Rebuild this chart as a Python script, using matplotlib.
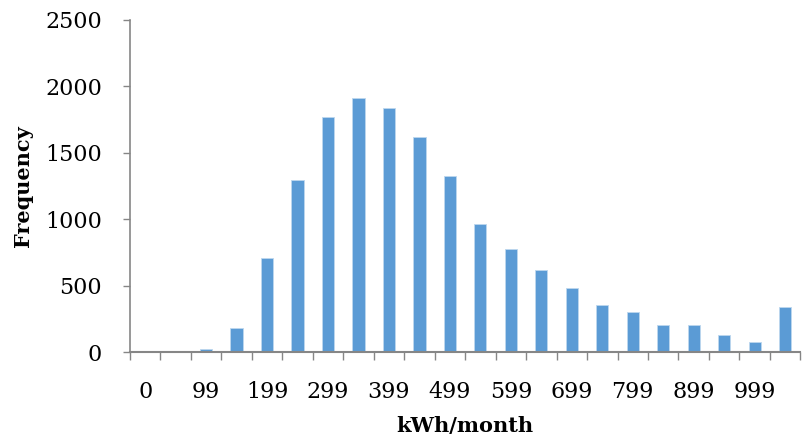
import numpy as np
import matplotlib
matplotlib.use("Agg")
import matplotlib.pyplot as plt

# histogram bins (upper bound of each bin), last bin is the overflow
bins = ['0', '49', '99', '149', '199', '249', '299', '349', '399', '449', '499',
        '549', '599', '649', '699', '749', '799', '849', '899', '949', '999', 'More']
freq = [0, 4, 27, 185, 708, 1297, 1767, 1915, 1835, 1617, 1325,
        967, 773, 615, 483, 352, 304, 206, 202, 131, 79, 338]

blue = '#5B9BD5'
axis_grey = '#868686'

plt.rcParams['font.family'] = 'DejaVu Serif'

fig = plt.figure(figsize=(8.02, 4.44), dpi=100)
ax = fig.add_axes([0.162, 0.207, 0.836, 0.748])

x = np.arange(len(bins))
ax.bar(x, freq, width=0.4, color=blue, edgecolor='#BDD7EE', linewidth=0.6)

ax.set_xlim(-0.5, len(bins) - 0.5)
ax.set_ylim(0, 2500)
ax.set_yticks(np.arange(0, 2501, 500))

# label every second bin, tick marks sit on the bin boundaries
ax.set_xticks(x[::2][:11], bins[::2][:11])
ax.set_xticks(np.arange(-0.5, len(bins), 1.0), minor=True)
ax.tick_params(axis='x', which='major', length=0, pad=21, labelsize=16)
ax.tick_params(axis='x', which='minor', length=6, color=axis_grey, width=1)
ax.tick_params(axis='y', length=5, color=axis_grey, width=1, pad=15, labelsize=16)

ax.spines['top'].set_visible(False)
ax.spines['right'].set_visible(False)
ax.spines['left'].set_color(axis_grey)
ax.spines['bottom'].set_color(axis_grey)
ax.spines['left'].set_linewidth(1.2)
ax.spines['bottom'].set_linewidth(1.5)

ax.set_xlabel('kWh/month', fontweight='bold', fontsize=15, labelpad=9)
ax.set_ylabel('Frequency', fontweight='bold', fontsize=15, labelpad=9)

fig.savefig('out.png', dpi=100)
